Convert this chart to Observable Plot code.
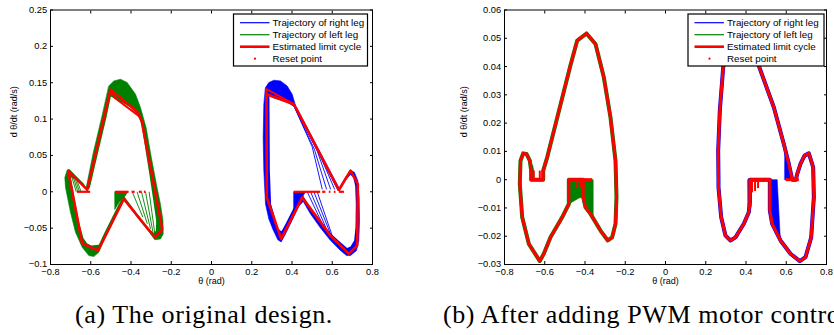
<!DOCTYPE html>
<html><head><meta charset="utf-8">
<script src="https://cdn.jsdelivr.net/npm/d3@7"></script>
<script src="https://cdn.jsdelivr.net/npm/@observablehq/plot@0.6"></script>
<style>
html,body{margin:0;padding:0;background:#fff;}
body{width:834px;height:335px;overflow:hidden;position:relative;}
.panel{position:absolute;top:0;}
.cap{position:absolute;top:300px;font-family:"Liberation Serif","Times New Roman",serif;font-size:26px;letter-spacing:0.6px;line-height:30px;white-space:nowrap;color:#000;}
#overlay{position:absolute;left:0;top:0;}
</style></head><body>
<div id="pa" class="panel" style="left:0"></div>
<div id="pb" class="panel" style="left:420px"></div>
<svg id="overlay" width="834" height="335"></svg>
<div class="cap" style="left:75px">(a) The original design.</div>
<div class="cap" style="left:443px">(b) After adding PWM motor control.</div>
<script>
// ---------- tick values & labels ----------
const xTicks = [-0.8,-0.6,-0.4,-0.2,0,0.2,0.4,0.6,0.8];
const yTicksA = [-0.1,-0.05,0,0.05,0.1,0.15,0.2,0.25];
const yTicksB = [-0.03,-0.02,-0.01,0,0.01,0.02,0.03,0.04,0.05,0.06];
const xLabel = "θ (rad)";
const yLabel = "d θ/dt (rad/s)";
const legendLabels = ["Trajectory of right leg","Trajectory of left leg","Estimated limit cycle","Reset point"];

// ---------- panel (a): original design ----------
// left leg trajectories (envelope of the green band)
const greenA_outer = [[-0.5103,0.1456],[-0.4854,0.1525],[-0.4522,0.1548],[-0.4190,0.1502],[-0.3776,0.1342],[-0.3528,0.1158],[-0.3250,0.0884],[-0.2990,0.0472],[-0.2740,0.0107],[-0.2540,-0.0167],[-0.2410,-0.0397],[-0.2400,-0.0579],[-0.2534,-0.0648],[-0.2817,-0.0660],[-0.3114,-0.0548],[-0.3611,-0.0379],[-0.4025,-0.0228],[-0.4357,-0.0113],[-0.4606,-0.0250],[-0.4937,-0.0438],[-0.5351,-0.0667],[-0.5600,-0.0831],[-0.5848,-0.0891],[-0.6097,-0.0877],[-0.6426,-0.0763],[-0.6758,-0.0557],[-0.7006,-0.0283],[-0.7255,0.0060],[-0.7288,0.0198],[-0.7171,0.0299],[-0.7050,0.0305],[-0.6758,0.0221],[-0.6344,0.0107],[-0.6260,0.0010],[-0.5890,0.0519],[-0.5420,0.1068]];
const greenA_inner = [[-0.6040,0.0060],[-0.5650,0.0519],[-0.5220,0.1021],[-0.5000,0.1310],[-0.4770,0.1274],[-0.4439,0.1227],[-0.4025,0.1158],[-0.3693,0.1068],[-0.3478,0.0931],[-0.3300,0.0609],[-0.3090,0.0244],[-0.2890,-0.0122],[-0.2750,-0.0397],[-0.2760,-0.0534],[-0.2866,-0.0571],[-0.3196,-0.0480],[-0.3611,-0.0330],[-0.4025,-0.0177],[-0.4357,-0.0054],[-0.4606,-0.0167],[-0.4937,-0.0351],[-0.5351,-0.0579],[-0.5600,-0.0730],[-0.5963,-0.0740],[-0.6178,-0.0710],[-0.6360,-0.0640],[-0.6560,-0.0440],[-0.6750,-0.0170],[-0.6930,0.0107],[-0.7000,0.0200],[-0.6723,0.0162],[-0.6344,0.0065],[-0.6162,0.0010]];
const greenA_dense = [[-0.480,0],[-0.415,0],[-0.430,-0.006],[-0.4606,-0.015],[-0.480,-0.024]];
const greenA_hatch = [[-0.394,0,-0.341,-0.035],[-0.370,0,-0.319,-0.044],[-0.348,0,-0.303,-0.051],[-0.328,0,-0.290,-0.057],[-0.310,0,-0.280,-0.061],[-0.700,0.026,-0.672,0],[-0.690,0.023,-0.664,0],[-0.680,0.020,-0.656,0],[-0.670,0.017,-0.648,0]];
// right leg trajectories (envelope of the blue band)
const blueA_outer = [[0.2683,0.1433],[0.2847,0.1502],[0.3096,0.1534],[0.3429,0.1525],[0.3761,0.1456],[0.4010,0.1342],[0.4174,0.1187],[0.6350,0.0045],[0.6658,0.0198],[0.6907,0.0299],[0.7106,0.0266],[0.7271,0.0152],[0.7338,-0.0077],[0.7354,-0.0397],[0.7321,-0.0671],[0.7205,-0.0808],[0.6907,-0.0877],[0.6708,-0.0877],[0.6377,-0.0799],[0.5913,-0.0671],[0.5416,-0.0497],[0.4919,-0.0305],[0.4556,-0.0132],[0.4340,-0.0200],[0.4010,-0.0390],[0.3677,-0.0580],[0.3462,-0.0690],[0.3295,-0.0660],[0.3063,-0.0525],[0.2847,-0.0373],[0.2683,-0.0168],[0.2600,0.0290],[0.2567,0.0747],[0.2600,0.1205]];
const blueA_inner = [[0.2880,0.1319],[0.3096,0.1287],[0.3429,0.1260],[0.3761,0.1227],[0.4093,0.1168],[0.6277,0.0010],[0.6410,0.0030],[0.6658,0.0152],[0.6907,0.0235],[0.7040,0.0198],[0.7139,0.0084],[0.7172,-0.0168],[0.7155,-0.0489],[0.7089,-0.0671],[0.6907,-0.0754],[0.6741,-0.0772],[0.6410,-0.0694],[0.5913,-0.0571],[0.5416,-0.0406],[0.4919,-0.0223],[0.4556,-0.0054],[0.4340,-0.0090],[0.4010,-0.0260],[0.3677,-0.0443],[0.3478,-0.0543],[0.3295,-0.0511],[0.3150,-0.0350],[0.2960,-0.0168],[0.2900,0.0290],[0.2890,0.0747],[0.2880,0.1205]];
const blueA_dense = [[0.409,0],[0.467,0],[0.4556,-0.0054],[0.434,-0.010],[0.409,-0.025]];
const blueA_hatch = [[0.4755,0,0.5665,-0.0534],[0.4921,0,0.5781,-0.0557],[0.5087,0,0.5913,-0.0580],[0.5253,0,0.5996,-0.0603]];
const blueA_thin = [[1,0.4093,0.1182],[1,0.5003,0.0619],[1,0.5500,0.0038],[2,0.4093,0.1182],[2,0.5108,0.0587],[2,0.5714,0.0038],[3,0.4174,0.1150],[3,0.5251,0.0564],[3,0.5913,0.0038],[4,0.4174,0.1150],[4,0.5334,0.0540],[4,0.6112,0.0038]];
// estimated limit cycles
const redA_left = [[-0.6178,0.0029],[-0.5019,0.1403],[-0.3693,0.1104],[-0.3478,0.0985],[-0.2484,-0.0452],[-0.2450,-0.0520],[-0.2817,-0.0626],[-0.4357,-0.0099],[-0.5632,-0.0808],[-0.6426,-0.0708],[-0.7121,0.0290],[-0.6178,0.0029]];
const redA_left2 = [[-0.5019,0.1403],[-0.4800,0.1290],[-0.3600,0.1040]];
const redA_right = [[0.2750,-0.0077],[0.2733,0.1342],[0.4093,0.1205],[0.6327,0.0025],[0.6907,0.0290],[0.7271,0.0107],[0.7238,-0.0740],[0.6824,-0.0854],[0.5913,-0.0603],[0.4506,-0.0077],[0.3462,-0.0648],[0.2750,-0.0077]];
const redA_right2 = [[0.2733,0.1342],[0.2733,0.1411],[0.4093,0.1205]];
// reset points (clusters on dθ/dt = 0), [from, to]
const resetA = [[-0.669,-0.603],[-0.479,-0.412],[-0.397,-0.382],[-0.361,-0.347],[-0.336,-0.328],[0.409,0.540],[0.550,0.566],[0.583,0.591],[0.608,0.616],[0.633,0.658]];

// ---------- panel (b): with PWM motor control ----------
const redB_left = [[-0.6077,0],[-0.6077,0.0032],[-0.5878,0.0079],[-0.4728,0.0403],[-0.4387,0.0492],[-0.3925,0.0517],[-0.3478,0.0480],[-0.3064,0.0362],[-0.2733,0.0220],[-0.2484,0.0067],[-0.2435,-0.0062],[-0.2484,-0.0156],[-0.2650,-0.0204],[-0.2866,-0.0215],[-0.3230,-0.0180],[-0.3727,-0.0121],[-0.3975,-0.0098],[-0.4089,-0.0062],[-0.4089,0],[-0.4804,0],[-0.4804,-0.0086],[-0.5135,-0.0133],[-0.5714,-0.0204],[-0.6047,-0.0262],[-0.6246,-0.0288],[-0.6792,-0.0227],[-0.7120,-0.0133],[-0.7240,-0.0015],[-0.7205,0.0067],[-0.7071,0.0093],[-0.6907,0.0091],[-0.6742,0.0067],[-0.6675,0.0032],[-0.6675,0],[-0.6077,0]];
const redB_right = [[0.2633,0],[0.2618,0.0103],[0.2699,0.0244],[0.2867,0.0397],[0.3100,0.0470],[0.3500,0.0510],[0.3900,0.0517],[0.4300,0.0480],[0.4636,0.0403],[0.5382,0.0256],[0.5879,0.0126],[0.6127,0.0056],[0.6296,0],[0.6477,0],[0.6544,0.0020],[0.6708,0.0056],[0.6907,0.0085],[0.7122,0.0093],[0.7338,0.0044],[0.7371,-0.0062],[0.7240,-0.0204],[0.6957,-0.0274],[0.6675,-0.0288],[0.6211,-0.0262],[0.5714,-0.0215],[0.5301,-0.0156],[0.5184,-0.0109],[0.5184,0],[0.4189,0],[0.4189,-0.0080],[0.4139,-0.0115],[0.3892,-0.0156],[0.3478,-0.0204],[0.3230,-0.0215],[0.2981,-0.0198],[0.2767,-0.0133],[0.2633,-0.0027],[0.2633,0]];
const redB_ticks = [[-0.6544,0,-0.6544,0.0032],[-0.6246,0,-0.6246,0.0032],[-0.4387,0,-0.4387,-0.0030],[-0.4250,0,-0.4250,-0.0025],[0.4300,0,0.4300,-0.0045],[0.4450,0,0.4450,-0.0040],[0.4600,0,0.4600,-0.0030]];
const greenB_dense = [[-0.4804,0],[-0.3593,0],[-0.3593,-0.0133],[-0.3727,-0.0121],[-0.3975,-0.0098],[-0.4089,-0.0062],[-0.4300,-0.0065],[-0.4804,-0.0086]];
const greenB_lobe = [[-0.6742,0.0067],[-0.6600,0.0050],[-0.6544,0.0032],[-0.6544,0],[-0.6675,0],[-0.6675,0.0032]];
const blueB_dense1 = [[0.4100,0],[0.4250,0],[0.4250,-0.0095],[0.4139,-0.0115],[0.4100,-0.0090]];
const blueB_dense2 = [[0.5184,0],[0.5550,0],[0.5681,-0.0180],[0.5714,-0.0215],[0.5301,-0.0156],[0.5184,-0.0109]];
const blueB_dense3 = [[0.5928,0.0110],[0.6127,0.0056],[0.6296,0.0008],[0.6296,0],[0.5928,0]];
const resetB = [[-0.674,-0.605],[-0.4804,-0.3642],[0.4189,0.5217],[0.5963,0.6625]];

// ---------- drawing ----------
const GREEN = "#008000", BLUE = "#0000ff", RED = "#ff0000";
const fmt = d3.format("~g");
const P = {x: d => d[0], y: d => d[1]};
const poly = (data, color) => Plot.line(data, {...P, curve: "linear-closed", fill: color, stroke: color, strokeWidth: 0.6});
const hole = (data) => Plot.line(data, {...P, curve: "linear-closed", fill: "#fff", stroke: "none"});
const links = (data, color, w) => Plot.link(data, {x1: d => d[0], y1: d => d[1], x2: d => d[2], y2: d => d[3], stroke: color, strokeWidth: w});
const resets = (data, w) => Plot.link(data, {x1: d => d[0], x2: d => d[1], y1: () => 0, y2: () => 0, stroke: RED, strokeWidth: w, strokeLinecap: "butt"});
const cycle = (data, w) => Plot.line(data, {...P, stroke: RED, strokeWidth: w, strokeLinejoin: "round"});

function panel({width, marginLeft, marginRight, yDomain, yTicks, yLabelDx, marks}) {
  return Plot.plot({
    width, height: 290, marginLeft, marginRight, marginTop: 9.5, marginBottom: 26,
    style: {fontFamily: "'Liberation Sans', Arial, sans-serif", fontSize: "9.3px", color: "#000", background: "#fff"},
    x: {domain: [-0.8, 0.8]},
    y: {domain: yDomain},
    marks: [
      ...marks,
      Plot.frame({stroke: "#000", strokeWidth: 1}),
      Plot.axisX(xTicks, {anchor: "bottom", tickSize: -3, tickPadding: 6.5, tickFormat: fmt, label: null}),
      Plot.axisX(xTicks, {anchor: "top", tickSize: -3, tickFormat: () => "", label: null}),
      Plot.axisY(yTicks, {anchor: "left", tickSize: -3, tickPadding: 6.3, tickFormat: fmt, label: null}),
      Plot.axisY(yTicks, {anchor: "right", tickSize: -3, tickFormat: () => "", label: null}),
      Plot.text([xLabel], {frameAnchor: "bottom", dy: 19, text: d => d, fontSize: 9}),
      Plot.text([yLabel], {frameAnchor: "left", dx: yLabelDx, rotate: -90, text: d => d, fontSize: 9})
    ]
  });
}

document.getElementById("pa").append(panel({
  width: 420, marginLeft: 50, marginRight: 48, yDomain: [-0.1, 0.25], yTicks: yTicksA, yLabelDx: -36.5,
  marks: [
    poly(greenA_outer, GREEN), hole(greenA_inner), poly(greenA_dense, GREEN),
    poly(blueA_outer, BLUE), hole(blueA_inner), poly(blueA_dense, BLUE),
    links(greenA_hatch, GREEN, 0.9), links(blueA_hatch, BLUE, 0.9),
    Plot.line(blueA_thin, {x: d => d[1], y: d => d[2], z: d => d[0], stroke: BLUE, strokeWidth: 0.9}),
    cycle(redA_left, 2.6), cycle(redA_left2, 2), cycle(redA_right, 2.6), cycle(redA_right2, 2),
    resets(resetA, 2.2)
  ]
}));

document.getElementById("pb").append(panel({
  width: 414, marginLeft: 84, marginRight: 8, yDomain: [-0.03, 0.06], yTicks: yTicksB, yLabelDx: -40.5,
  marks: [
    poly(greenB_dense, GREEN), poly(greenB_lobe, GREEN),
    poly(blueB_dense1, BLUE), poly(blueB_dense2, BLUE), poly(blueB_dense3, BLUE),
    Plot.line(redB_left, {...P, stroke: GREEN, strokeWidth: 4, strokeLinejoin: "round"}),
    Plot.line(redB_right, {...P, stroke: BLUE, strokeWidth: 4, strokeLinejoin: "round"}),
    cycle(redB_left, 3), cycle(redB_right, 3),
    links(redB_ticks, RED, 2),
    resets(resetB, 3)
  ]
}));

// ---------- legends ----------
const svg = d3.select("#overlay");
const legendStyle = [{c: BLUE, w: 1.2, t: "line"}, {c: GREEN, w: 1.2, t: "line"}, {c: RED, w: 2.6, t: "line"}, {c: RED, t: "dot"}];
function legend(x0, y0, w, h) {
  const g = svg.append("g").attr("font-family", "'Liberation Sans', Arial, sans-serif").attr("font-size", 9.8);
  g.append("rect").attr("x", x0).attr("y", y0).attr("width", w).attr("height", h)
    .attr("fill", "#fff").attr("stroke", "#000").attr("stroke-width", 1.2);
  legendLabels.forEach((label, i) => {
    const cy = y0 + 8.7 + i * 12, s = legendStyle[i];
    if (s.t === "line") g.append("line").attr("x1", x0 + 6.5).attr("x2", x0 + 36).attr("y1", cy).attr("y2", cy).attr("stroke", s.c).attr("stroke-width", s.w);
    else g.append("circle").attr("cx", x0 + 21.5).attr("cy", cy).attr("r", 1.1).attr("fill", s.c);
    g.append("text").attr("x", x0 + 39).attr("y", cy + 3.4).text(label);
  });
}
legend(233.5, 14, 134, 52);
legend(688, 14, 136, 52);
</script>
</body></html>
